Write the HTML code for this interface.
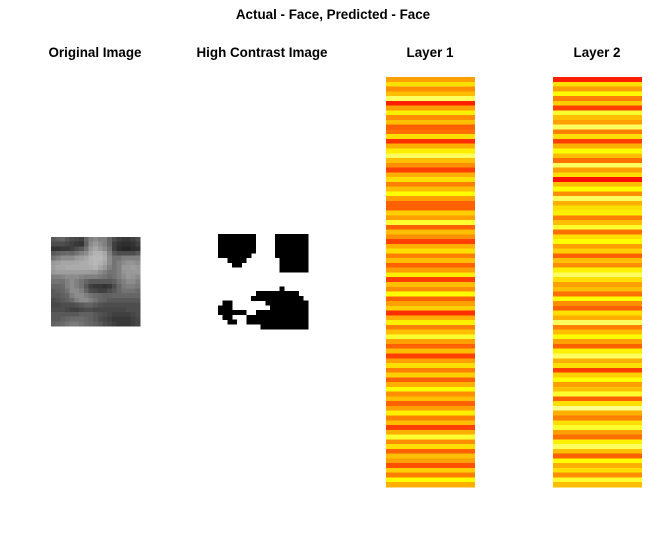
<!DOCTYPE html>
<html><head><meta charset="utf-8"><style>
body{margin:0;background:#fff;}
svg text{font-family:"Liberation Sans",sans-serif;font-weight:bold;font-size:13.4px;}
</style></head><body>
<svg id="c" width="669" height="552" xmlns="http://www.w3.org/2000/svg">
<rect width="669" height="552" fill="#fff"/>
<text x="333" y="19" text-anchor="middle">Actual - Face, Predicted - Face</text>
<text x="95" y="57" text-anchor="middle">Original Image</text>
<text x="262" y="57" text-anchor="middle">High Contrast Image</text>
<text x="430" y="57" text-anchor="middle">Layer 1</text>
<text x="597" y="57" text-anchor="middle">Layer 2</text>
<g id="face"></g>
<g id="mask"></g>
<g id="l1"></g>
<g id="l2"></g>
</svg>
<script>
const faceRows = [
"35 38 40 35 30 28 25 40 50 55 50 50 40 30 25 22 22 25 30",
"30 30 30 28 25 22 20 38 55 60 55 50 40 25 20 18 18 20 25",
"20 20 22 22 25 30 35 45 60 65 60 55 45 25 18 15 15 18 20",
"35 38 40 42 40 45 50 55 65 70 70 65 50 35 30 30 30 30 35",
"45 50 55 55 55 60 62 65 70 72 72 68 55 45 45 50 50 50 50",
"60 62 65 65 65 65 67 68 70 72 70 65 55 45 50 55 58 58 55",
"62 65 65 67 67 67 67 67 68 70 65 60 50 45 50 60 60 62 60",
"60 62 62 62 62 62 62 62 60 60 55 50 45 45 50 58 60 60 60",
"50 50 52 55 55 55 52 50 50 50 48 45 42 45 50 55 60 58 55",
"45 45 45 50 55 50 45 40 35 35 35 35 35 38 45 50 55 55 50",
"40 40 42 50 55 50 45 35 25 22 22 20 22 30 40 48 50 50 48",
"35 38 40 45 55 55 50 40 30 28 25 25 30 35 40 45 45 45 42",
"35 35 38 40 50 55 55 50 45 42 40 38 38 40 40 40 40 40 40",
"30 32 35 38 42 50 55 55 50 45 40 38 35 35 35 35 35 35 35",
"28 28 30 30 30 32 35 38 38 35 32 30 30 30 30 30 30 30 30",
"30 30 30 28 25 25 28 30 30 28 28 28 28 28 28 28 30 30 30",
"35 35 35 35 35 35 38 38 38 35 32 30 28 25 25 25 25 28 30",
"35 35 38 40 42 42 42 40 38 35 30 28 25 22 22 22 22 25 28",
"38 40 42 45 48 48 45 42 40 38 35 30 28 25 22 22 22 25 28"];
const maskRows = [
"1111111100001111111",
"1111111100001111111",
"1111111100001111111",
"1111111100001111111",
"1111111000001111111",
"0011110000000111111",
"0001100000000111111",
"0000000000000111111",
"0000000000000000000",
"0000000000000000000",
"0000000000000000000",
"0000000000000100000",
"0000000011111111100",
"0000000111111111110",
"0110000000111111111",
"1110000000011111111",
"1111110011111111111",
"0110001111111111111",
"0011001111111111111",
"0000000001111111111"];
const layer1 = [0.5,0.7,0.45,0.6,0.9,0.1,0.5,0.75,0.45,0.6,0.3,0.35,0.7,0.15,0.55,0.75,0.9,0.6,0.45,0.2,0.55,0.7,0.4,0.6,0.8,0.5,0.3,0.3,0.65,0.5,0.85,0.3,0.6,0.45,0.2,0.55,
0.7,0.4,0.6,0.3,0.5,0.75,0.2,0.6,0.45,0.8,0.3,0.5,0.65,0.15,0.55,0.75,0.4,0.6,0.85,0.5,0.3,0.6,0.2,0.5,0.7,0.4,0.65,0.3,0.55,0.8,0.45,0.6,0.3,0.5,0.75,0.4,0.6,0.2,0.55,0.85,0.45,0.7,0.3,0.6,0.5,0.25,0.65,0.4,0.8,0.55];
const layer2 = [0.1,0.7,0.5,0.8,0.4,0.65,0.2,0.85,0.6,0.5,0.9,0.4,0.7,0.2,0.55,0.8,0.6,0.35,0.9,0.5,0.7,0.05,0.6,0.8,0.45,0.9,0.55,0.7,0.75,0.4,0.6,0.85,0.35,0.7,0.8,0.5,
0.65,0.3,0.6,0.45,0.75,0.9,0.7,0.5,0.6,0.35,0.8,0.45,0.3,0.7,0.55,0.9,0.4,0.6,0.8,0.5,0.3,0.75,0.9,0.55,0.7,0.2,0.65,0.8,0.5,0.6,0.85,0.3,0.7,0.95,0.55,0.4,0.7,0.85,0.5,0.35,0.75,0.9,0.6,0.3,0.8,0.55,0.7,0.45,0.85,0.6];
const NS="http://www.w3.org/2000/svg";
function rect(g,x,y,w,h,f){const r=document.createElementNS(NS,'rect');r.setAttribute('x',x);r.setAttribute('y',y);r.setAttribute('width',w);r.setAttribute('height',h);r.setAttribute('fill',f);r.setAttribute('shape-rendering','crispEdges');g.appendChild(r);return r;}
function heat(t){const g=Math.min(255,Math.round(t*1.25*255));const b=t>0.8?Math.round((t-0.8)*5*191):0;return `rgb(255,${g},${b})`;}
const fg=document.getElementById('face');const fx=51,fy=237,fs=89/19;
faceRows.forEach((row,i)=>row.split(' ').forEach((v,j)=>{const c=Math.round(+v/100*255);
const r=rect(fg,fx+j*fs,fy+i*fs,fs+0.3,fs+0.3,`rgb(${c},${c},${c})`);

}));
const mg=document.getElementById('mask');const mx=218,my=234,mw=90/19,mh=95/20;
maskRows.forEach((row,i)=>row.split('').forEach((v,j)=>{if(v==='1'){
const r=rect(mg,mx+j*mw,my+i*mh,mw+0.3,mh+0.3,'#000');

}}));
function layer(id,vals,x){const g=document.getElementById(id);const y0=77,H=410,w=89;const h=H/vals.length;
vals.forEach((v,i)=>{const r=rect(g,x,y0+i*h,w,h+0.3,heat(v));

});}
layer('l1',layer1,386);layer('l2',layer2,553);
</script>
</body></html>
